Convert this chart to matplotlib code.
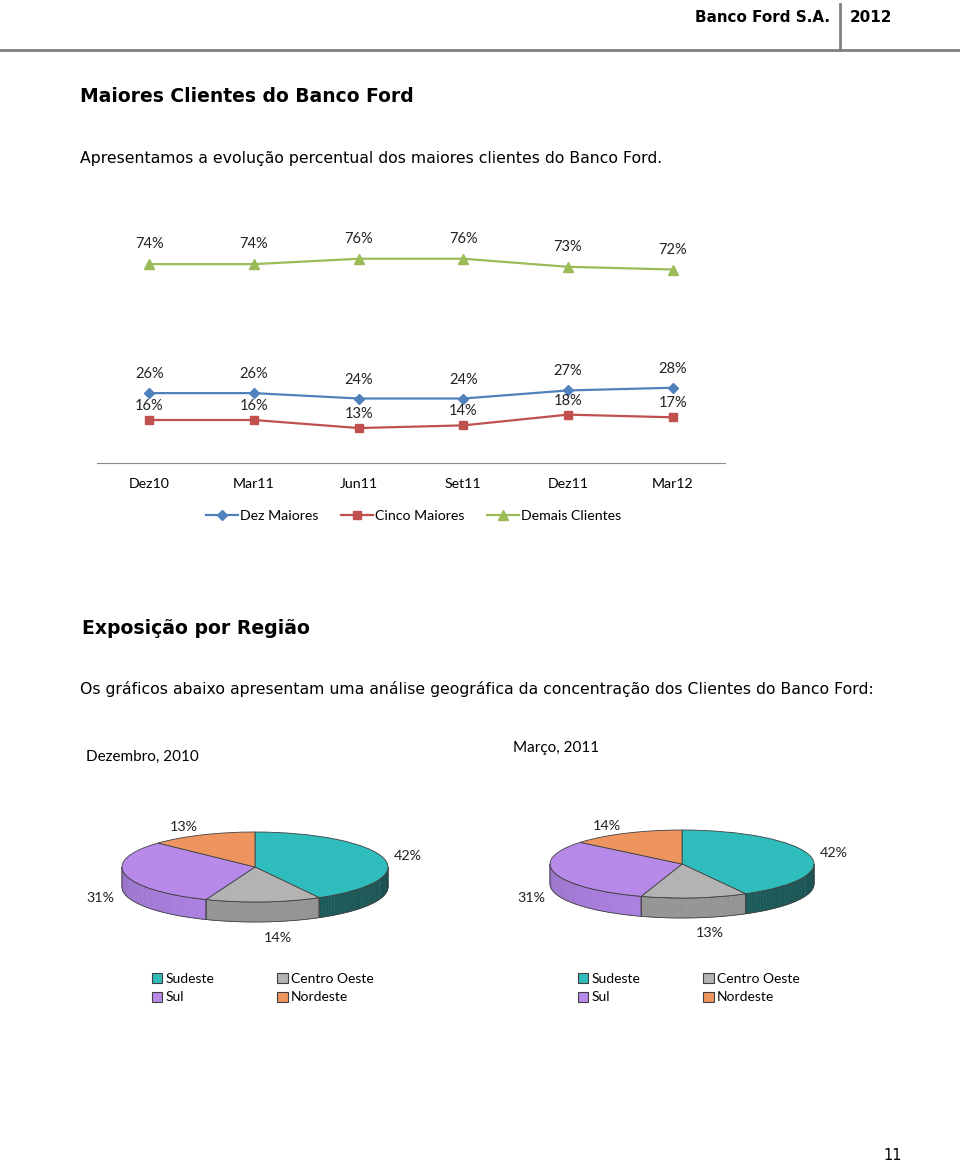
import numpy as np
from matplotlib import pyplot as plt
from matplotlib.patches import Polygon, Patch
from matplotlib.lines import Line2D

#==============================================================#
# データ
periodos = ["Dez10", "Mar11", "Jun11", "Set11", "Dez11", "Mar12"]
dez_maiores = [26, 26, 24, 24, 27, 28]
cinco_maiores = [16, 16, 13, 14, 18, 17]
demais_clientes = [74, 74, 76, 76, 73, 72]

regioes = ["Sudeste", "Centro Oeste", "Sul", "Nordeste"]
dez_2010 = [42, 14, 31, 13]
mar_2011 = [42, 13, 31, 14]

W, H = 960, 1162
CHART_FONT = "Lato"
TOP_COLORS = ["#2FBCBC", "#B3B3B3", "#B78AEA", "#EE955F"]
SIDE_COLORS = ["#1C5858", "#8E8E8E", "#A47BD8", "#C8764A"]


def fx(px):
    return px / W


def fy(py):
    return 1 - py / H


def px_axes(left, top, right, bottom):
    """ピクセル座標 -> add_axes 用の矩形"""
    return [fx(left), fy(bottom), (right - left) / W, (bottom - top) / H]


#==============================================================#
def pie_3d(ax, values, depth=0.57):
    """楕円の3D風円グラフ (上面 + 側面)"""
    wedges, _ = ax.pie(values, colors=TOP_COLORS, startangle=90,
                       counterclock=False, radius=1,
                       wedgeprops=dict(edgecolor="#404040", linewidth=0.6,
                                       zorder=3))

    for w, side in zip(wedges, SIDE_COLORS):
        t1, t2 = w.theta1, w.theta2
        for k in (-360, 0, 360):
            lo = max(t1, -180 + k)
            hi = min(t2, 0 + k)
            if hi <= lo:
                continue
            base = np.array(plt.matplotlib.colors.to_rgb(side))
            ang = np.linspace(lo, hi, 40)
            for a, b in zip(ang[:-1], ang[1:]):
                am = np.radians((a + b) / 2)
                shade = 0.9 + 0.15 * np.sin(-am)
                col = np.clip(base * shade, 0, 1)
                ra, rb = np.radians(a), np.radians(b)
                quad = [(np.cos(ra), np.sin(ra)), (np.cos(rb), np.sin(rb)),
                        (np.cos(rb), np.sin(rb) - depth),
                        (np.cos(ra), np.sin(ra) - depth)]
                ax.add_patch(Polygon(quad, closed=True, facecolor=col,
                                     edgecolor=col, linewidth=0.4, zorder=1))
            rr = np.radians(ang)
            outline = np.vstack([np.column_stack([np.cos(rr), np.sin(rr)]),
                                 np.column_stack([np.cos(rr[::-1]),
                                                  np.sin(rr[::-1]) - depth])])
            ax.add_patch(Polygon(outline, closed=True, facecolor="none",
                                 edgecolor="#404040", linewidth=0.6, zorder=2))

    # ラベル
    for w, v in zip(wedges, values):
        mid = np.radians((w.theta1 + w.theta2) / 2)
        c, s = np.cos(mid), np.sin(mid)
        x = 1.08 * c
        y = 1.25 * s if s >= 0 else 1.25 * s - depth - 0.2 * abs(s)
        ax.text(x, y, f"{v}%", ha="left" if c > 0 else "right", va="center",
                fontsize=10.3, family=CHART_FONT, color="#222222")

    ax.set_xlim(-1.6, 1.6)
    ax.set_ylim(-3, 2)
    ax.set_aspect("auto")
    ax.axis("off")


#==============================================================#
fig = plt.figure(figsize=(W / 100, H / 100), dpi=100)

# ヘッダー
fig.add_artist(Line2D([0, 1], [fy(50), fy(50)], color="#808080", lw=2))
fig.add_artist(Line2D([fx(840), fx(840)], [fy(4), fy(50)], color="#808080", lw=2))
fig.text(fx(830), fy(18), "Banco Ford S.A.", ha="right", va="center",
         fontsize=10.9, fontweight="bold", family="DejaVu Sans")
fig.text(fx(850), fy(18), "2012", ha="left", va="center",
         fontsize=10.9, fontweight="bold", family="DejaVu Sans")

fig.text(fx(80), fy(97), "Maiores Clientes do Banco Ford", ha="left",
         va="center", fontsize=13.5, fontweight="bold")
fig.text(fx(80), fy(158), "Apresentamos a evolução percentual dos maiores "
         "clientes do Banco Ford.", ha="left", va="center", fontsize=11.3)

# 折れ線グラフ
ax = fig.add_axes(px_axes(97, 248, 725, 463))
x = np.arange(len(periodos))
series = [
    ("Dez Maiores", dez_maiores, "#4F81BD", "D", 5, 19),
    ("Cinco Maiores", cinco_maiores, "#C0504D", "s", 6, 14),
    ("Demais Clientes", demais_clientes, "#9BBB59", "^", 7, 20),
]
handles = []
for name, vals, col, mk, ms, off in series:
    ln, = ax.plot(x, vals, color=col, marker=mk, markersize=ms, lw=1.6,
                  label=name, clip_on=False)
    handles.append(ln)
    for xi, v in zip(x, vals):
        ax.annotate(f"{v}%", (xi, v), xytext=(0, off),
                    textcoords="offset pixels", ha="center", va="center",
                    fontsize=10.5, family=CHART_FONT, color="#222222",
                    annotation_clip=False)

ax.set_xlim(-0.5, len(periodos) - 0.5)
ax.set_ylim(0, 80)
ax.set_xticks(x)
ax.set_xticklabels(periodos, family=CHART_FONT, fontsize=10.2)
ax.tick_params(axis="x", length=0, pad=11)
ax.set_yticks([])
for sp in ["top", "right", "left"]:
    ax.spines[sp].set_visible(False)
ax.spines["bottom"].set_color("#8C8C8C")
ax.patch.set_alpha(0)

fig.legend(handles=handles, loc="center", bbox_to_anchor=(fx(414), fy(516)),
           ncol=3, frameon=False, handlelength=2.2, handletextpad=0.2,
           columnspacing=1.6, prop=dict(family=CHART_FONT, size=10.2))

# セクション
fig.text(fx(82), fy(629), "Exposição por Região", ha="left", va="center",
         fontsize=13.6, fontweight="bold")
fig.text(fx(80), fy(689), "Os gráficos abaixo apresentam uma análise geográfica "
         "da concentração dos Clientes do Banco Ford:", ha="left",
         va="center", fontsize=11.3)

# 円グラフ
pies = [
    ("Dezembro, 2010", dez_2010, (255, 867), 133, 35, (86, 757), (152, 988)),
    ("Março, 2011", mar_2011, (682, 864), 132, 34, (513, 748), (578, 988)),
]
for title, vals, (cx, cy), a, b, (tx, ty), (lx, ly) in pies:
    pax = fig.add_axes(px_axes(cx - 1.6 * a, cy - 2 * b, cx + 1.6 * a, cy + 3 * b))
    pie_3d(pax, vals, depth=20 / b)
    fig.text(fx(tx), fy(ty), title, ha="left", va="center", fontsize=11,
             family=CHART_FONT)
    order = [0, 2, 1, 3]
    ph = [Patch(facecolor=TOP_COLORS[i], edgecolor="#404040", lw=0.8,
                label=regioes[i]) for i in order]
    fig.legend(handles=ph, loc="center left", bbox_to_anchor=(fx(lx), fy(ly)),
               ncol=2, frameon=False, handlelength=0.75, handleheight=0.75,
               handletextpad=0.25, columnspacing=4.5, labelspacing=0.5,
               borderaxespad=0, borderpad=0,
               prop=dict(family=CHART_FONT, size=10))

fig.text(fx(893), fy(1156), "11", ha="center", va="center", fontsize=10.5)

fig.savefig("out.png", dpi=100)
